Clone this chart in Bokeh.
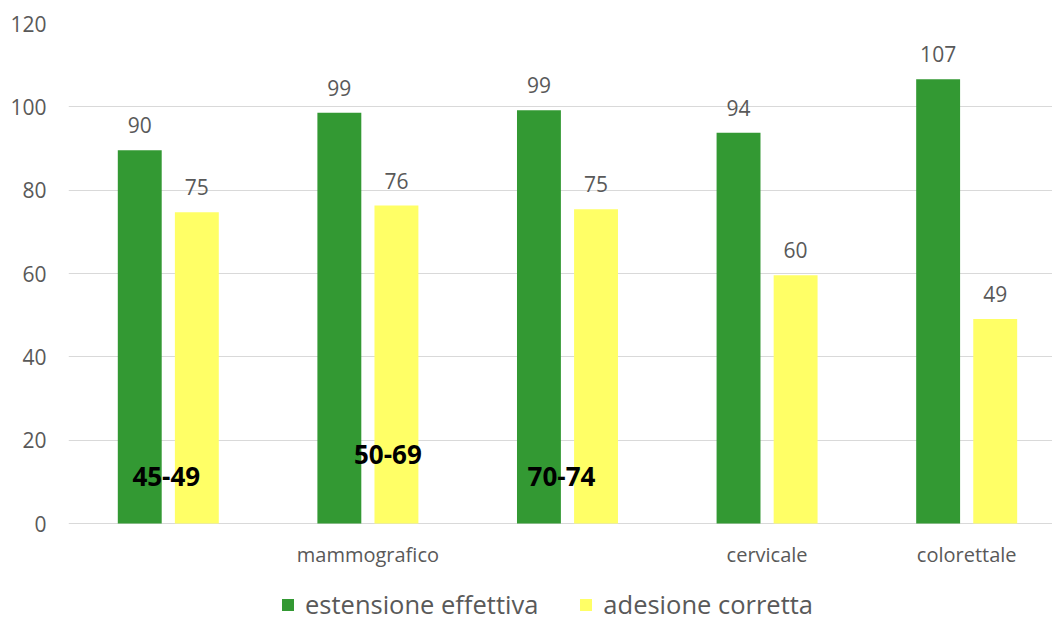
from bokeh.plotting import figure
from bokeh.models import ColumnDataSource, Range1d, Legend, LegendItem, FixedTicker
from bokeh.transform import dodge
from bokeh.core.properties import value
from bokeh.embed import file_html
from bokeh.resources import INLINE

# ---- data ----
groups = ["", "mammografico", "", "cervicale", "colorettale"]
estensione = [89.6, 98.6, 99.2, 93.8, 106.6]
adesione = [74.7, 76.3, 75.4, 59.6, 49.1]
age_labels = ["45-49", "50-69", "70-74"]
age_x = [-0.01, 1.1, 1.97]
age_y = [11.3, 16.6, 11.3]
y_ticks = [0, 20, 40, 60, 80, 100, 120]

GREEN = "#339933"
YELLOW = "#FFFF66"
GREY = "#595959"
FONT = "Open Sans"

xs = list(range(len(groups)))
src = ColumnDataSource(dict(
    x=xs,
    base=[0] * len(xs),
    grp=groups,
    est=estensione,
    ade=adesione,
    est_lbl=[f"{v:.0f}" for v in estensione],
    ade_lbl=[f"{v:.0f}" for v in adesione],
))

# frame spans from y=23 (value 120) to bottom of canvas; value 0 sits at y=523
px_per_unit = 500 / 120
y_start = -(622 - 23 - 500) / px_per_unit

p = figure(width=1052, height=622, output_backend="svg", toolbar_location=None,
           x_range=Range1d(-0.5, 4.43), y_range=Range1d(y_start, 120),
           min_border_left=68, min_border_right=0, min_border_top=23, min_border_bottom=0)
p.outline_line_color = None
p.background_fill_color = "white"

off = 0.143
bw = 0.22
r1 = p.vbar(x=dodge("x", -off), top="est", width=bw, source=src, fill_color=GREEN, line_color=None)
r2 = p.vbar(x=dodge("x", off), top="ade", width=bw, source=src, fill_color=YELLOW, line_color=None)

p.text(x=dodge("x", -off), y="est", text="est_lbl", source=src, text_align="center",
       text_baseline="bottom", y_offset=-17, text_font=value(FONT), text_font_size="21px",
       text_color=GREY)
p.text(x=dodge("x", off), y="ade", text="ade_lbl", source=src, text_align="center",
       text_baseline="bottom", y_offset=-17, text_font=value(FONT), text_font_size="21px",
       text_color=GREY)

# category labels under the baseline
p.text(x="x", y="base", text="grp", source=src, text_align="center", text_baseline="middle",
       y_offset=31, text_font=value(FONT), text_font_size="20px", text_color=GREY)

asrc = ColumnDataSource(dict(x=age_x, y=age_y, t=age_labels))
p.text(x="x", y="y", text="t", source=asrc, text_align="center", text_baseline="middle",
       text_font=value(FONT), text_font_size="26px", text_font_style="bold", text_color="black")

# axes
p.xaxis.visible = False
p.yaxis.ticker = FixedTicker(ticks=y_ticks)
p.yaxis.axis_line_color = None
p.yaxis.major_tick_line_color = None
p.yaxis.minor_tick_line_color = None
p.yaxis.major_label_standoff = 16
p.yaxis.major_label_text_font = FONT
p.yaxis.major_label_text_font_size = "21px"
p.yaxis.major_label_text_color = GREY

p.xgrid.grid_line_color = None
p.ygrid.ticker = FixedTicker(ticks=y_ticks)
p.ygrid.grid_line_color = "#D9D9D9"
p.ygrid.grid_line_width = 1

legend = Legend(items=[LegendItem(label="estensione effettiva", renderers=[r1]),
                       LegendItem(label="adesione corretta", renderers=[r2])],
                orientation="horizontal", location=(212, 1),
                label_text_font=FONT, label_text_font_size="25.5px", label_text_color=GREY,
                glyph_width=15, glyph_height=15, spacing=40, label_standoff=10,
                padding=0, margin=0,
                border_line_color=None, background_fill_alpha=0)
p.add_layout(legend, "center")

open("out.html", "w").write(file_html(p, INLINE))
